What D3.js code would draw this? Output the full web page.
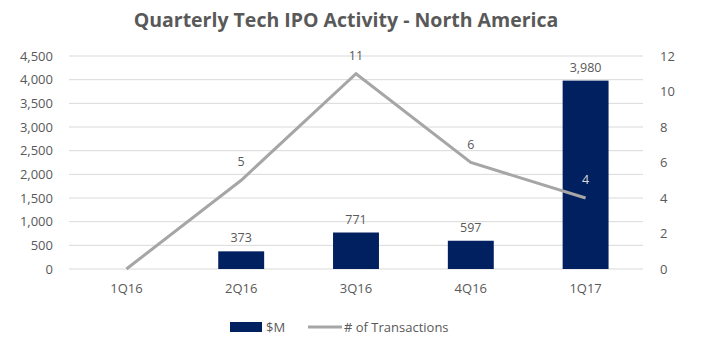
<!DOCTYPE html>
<html>
<head>
<meta charset="utf-8">
<script src="https://cdn.jsdelivr.net/npm/d3@7"></script>
<style>
  body { margin: 0; background: #fff; }
  text { font-family: "Open Sans", "Liberation Sans", sans-serif; }
</style>
</head>
<body>
<div id="chart"></div>
<script>
// data
const quarters = ["1Q16", "2Q16", "3Q16", "4Q16", "1Q17"];
const amounts = [0, 373, 771, 597, 3980];          // $M
const transactions = [0, 5, 11, 6, 4];             // # of Transactions
const leftTicks = [0, 500, 1000, 1500, 2000, 2500, 3000, 3500, 4000, 4500];
const rightTicks = [0, 2, 4, 6, 8, 10, 12];

const width = 702, height = 351;
const margin = { top: 56, right: 59, bottom: 82, left: 69 };

const svg = d3.select("#chart").append("svg")
    .attr("width", width)
    .attr("height", height);

const innerW = width - margin.left - margin.right;
const innerH = height - margin.top - margin.bottom;

const g = svg.append("g")
    .attr("transform", `translate(${margin.left},${margin.top})`);

// scales
const x = d3.scaleBand().domain(quarters).range([0, innerW]).paddingInner(0.6).paddingOuter(0.3);
const xc = d3.scaleBand().domain(quarters).range([0, innerW]);
const yL = d3.scaleLinear().domain([0, 4500]).range([innerH, 0]);
const yR = d3.scaleLinear().domain([0, 12]).range([innerH, 0]);

// title
svg.append("text")
    .attr("x", 346).attr("y", 27)
    .attr("text-anchor", "middle")
    .attr("font-size", 19.5).attr("font-weight", "bold")
    .attr("fill", "#595959")
    .text("Quarterly Tech IPO Activity - North America");

// gridlines
g.selectAll(".grid").data(leftTicks).enter().append("line")
    .attr("x1", 0).attr("x2", innerW)
    .attr("y1", d => yL(d)).attr("y2", d => yL(d))
    .attr("stroke", "#d9d9d9").attr("stroke-width", 1);

// axes
const fmt = d3.format(",");
const axL = g.append("g").call(d3.axisLeft(yL).tickValues(leftTicks).tickFormat(fmt).tickSize(0).tickPadding(16));
const axR = g.append("g").attr("transform", `translate(${innerW},0)`)
    .call(d3.axisRight(yR).tickValues(rightTicks).tickSize(0).tickPadding(17));
const axB = g.append("g").attr("transform", `translate(0,${innerH})`)
    .call(d3.axisBottom(xc).tickSize(0).tickPadding(15));
[axL, axR, axB].forEach(a => {
    a.select(".domain").remove();
    a.selectAll("text").attr("font-size", 13).attr("fill", "#595959")
        .attr("font-family", "'Open Sans', sans-serif");
});

// bars
g.selectAll(".bar").data(quarters).enter().append("rect")
    .attr("class", "bar")
    .attr("x", d => x(d))
    .attr("width", x.bandwidth())
    .attr("y", (d, i) => yL(amounts[i]))
    .attr("height", (d, i) => innerH - yL(amounts[i]))
    .attr("fill", "#002060");

// bar labels
quarters.forEach((q, i) => {
    if (amounts[i] === 0) return;
    g.append("text")
        .attr("x", xc(q) + xc.bandwidth() / 2)
        .attr("y", yL(amounts[i]) - 9)
        .attr("text-anchor", "middle")
        .attr("font-size", 12.5).attr("fill", "#595959")
        .text(fmt(amounts[i]));
});

// line
const line = d3.line()
    .x((d, i) => xc(quarters[i]) + xc.bandwidth() / 2)
    .y(d => yR(d));
g.append("path")
    .datum(transactions)
    .attr("d", line)
    .attr("fill", "none")
    .attr("stroke", "#a6a6a6")
    .attr("stroke-width", 3);

// line labels (the one sitting on the tall bar is light)
transactions.forEach((d, i) => {
    if (d === 0) return;
    const onBar = yR(d) - 14 > yL(amounts[i]);
    g.append("text")
        .attr("x", xc(quarters[i]) + xc.bandwidth() / 2)
        .attr("y", yR(d) - 14)
        .attr("text-anchor", "middle")
        .attr("font-size", 12.5).attr("fill", onBar ? "#d9d9d9" : "#595959")
        .text(d);
});

// legend
const leg = svg.append("g").attr("transform", "translate(230,327)");
leg.append("rect").attr("x", 0).attr("y", -5).attr("width", 32).attr("height", 10).attr("fill", "#002060");
leg.append("text").attr("x", 36).attr("y", 5).attr("font-size", 13).attr("fill", "#595959").text("$M");
leg.append("line").attr("x1", 78).attr("x2", 112).attr("y1", 0).attr("y2", 0)
    .attr("stroke", "#a6a6a6").attr("stroke-width", 3);
leg.append("text").attr("x", 114).attr("y", 5).attr("font-size", 13).attr("fill", "#595959").text("# of Transactions");
</script>
</body>
</html>
